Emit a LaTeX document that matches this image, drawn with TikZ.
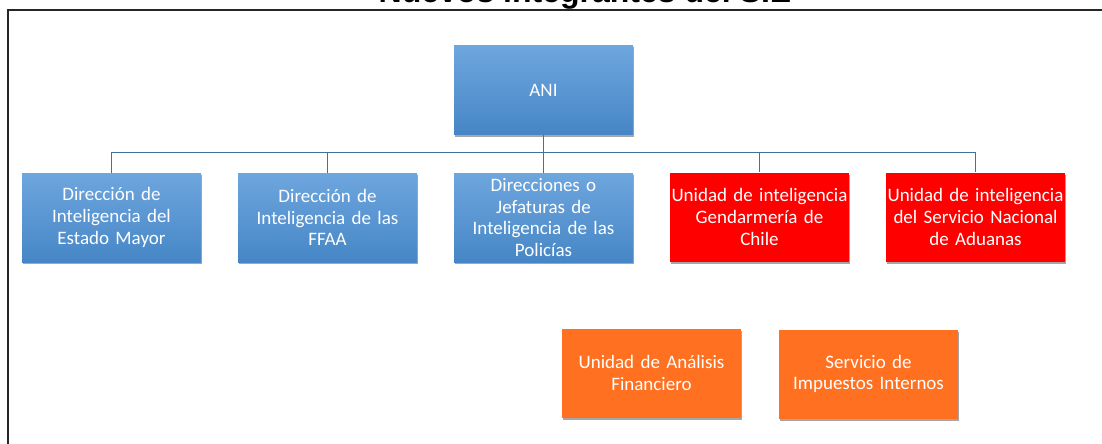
\documentclass[tikz,border=0pt]{standalone}
\usepackage{fontspec}
\setmainfont{Carlito}
\newfontfamily\titlefont{Liberation Sans}
\usetikzlibrary{shadows}
\definecolor{bluetop}{RGB}{110,166,222}
\definecolor{bluebot}{RGB}{70,134,198}
\definecolor{redbox}{RGB}{255,0,0}
\definecolor{orangebox}{RGB}{255,113,33}
\definecolor{connc}{RGB}{65,113,156}
\tikzset{
  x=1pt, y=-1pt,
  orgbox/.style={rectangle, minimum width=179pt, minimum height=89pt, inner sep=0pt,
    text width=176pt, align=center, text=white,
    font=\fontsize{19}{21.7}\selectfont,
    drop shadow={shadow xshift=1pt, shadow yshift=-2pt, opacity=0.35, fill=black}},
  bluebox/.style={orgbox, top color=bluetop, bottom color=bluebot},
  redunit/.style={orgbox, fill=redbox},
  orangeunit/.style={orgbox, fill=orangebox},
  conn/.style={draw=connc, line width=1.5pt},
  frameline/.style={draw=black!85, line width=2pt}
}
\begin{document}
\begin{tikzpicture}
\useasboundingbox (0,0) rectangle (1102,444);
\node[anchor=base, font=\titlefont\bfseries\fontsize{32}{36}\selectfont] (title) at (585,3) {Nuevos integrantes del SIE};
\draw[frameline] (7.5,470) -- (7.5,10) -- (1120,10);

\node[bluebox] (ani) at (543.5,90) {ANI};
\node[bluebox] (b1) at (111.5,217.5) {Dirección de\\Inteligencia del\\Estado Mayor};
\node[bluebox] (b2) at (327.5,217.5) {Dirección de\\Inteligencia de las\\FFAA};
\node[bluebox] (b3) at (543.5,217.5) {Direcciones o\\Jefaturas de\\Inteligencia de las\\Policías};
\node[redunit] (b4) at (759.5,217) {Unidad de inteligencia\\Gendarmería de\\Chile};
\node[redunit] (b5) at (975.5,217) {Unidad de inteligencia\\del Servicio Nacional\\de Aduanas};
\node[orangeunit] (o1) at (651.5,373) {Unidad de Análisis\\Financiero};
\node[orangeunit] (o2) at (868.5,374) {Servicio de\\Impuestos Internos};

\foreach \c in {b1,b2,b3,b4,b5}{
  \draw[conn] (ani.south) -- ++(0,18) -| (\c.north);
}
\end{tikzpicture}
\end{document}
